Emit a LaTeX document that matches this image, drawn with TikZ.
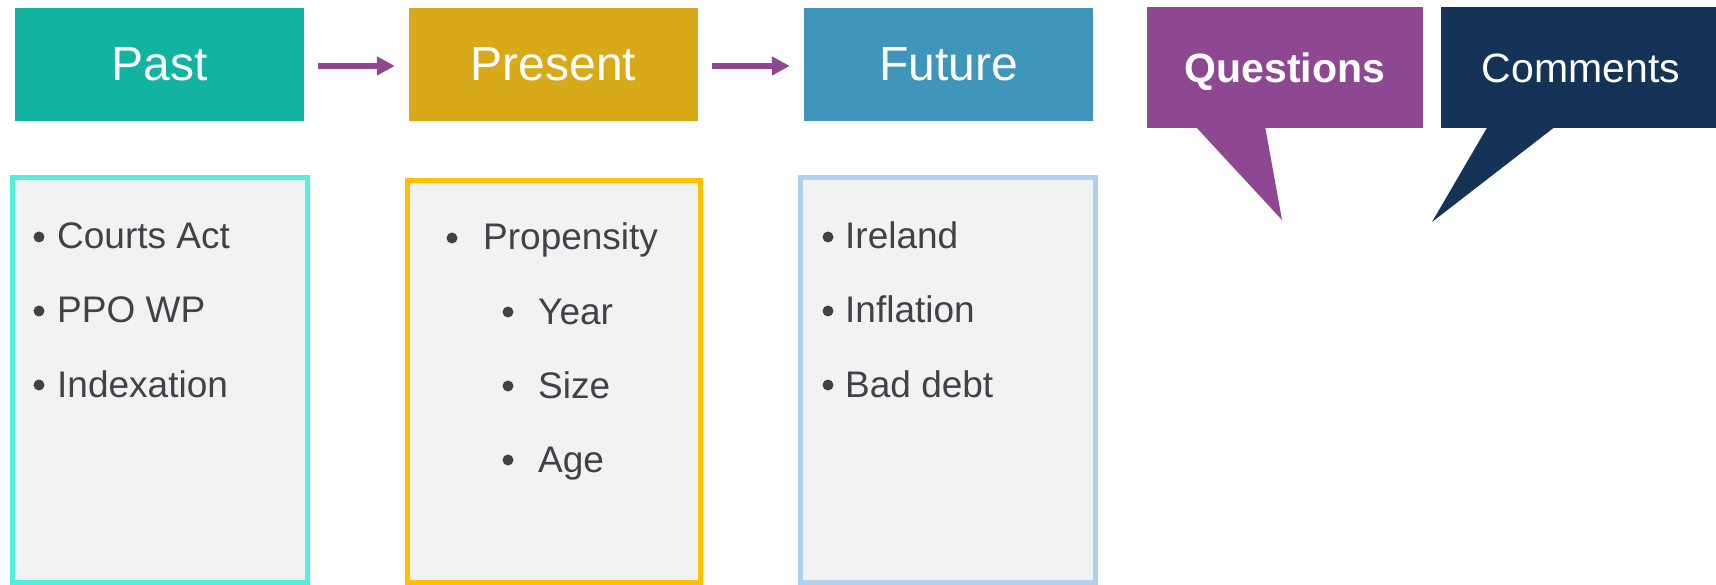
\documentclass[tikz,border=0pt]{standalone}
\usepackage{fontspec}
\setmainfont{Liberation Sans}
\usetikzlibrary{arrows.meta}
\definecolor{pastc}{RGB}{19,179,162}
\definecolor{presc}{RGB}{216,170,25}
\definecolor{futc}{RGB}{64,150,186}
\definecolor{qc}{RGB}{142,72,145}
\definecolor{cc}{RGB}{20,51,86}
\definecolor{listfill}{RGB}{242,242,242}
\definecolor{pastb}{RGB}{80,240,221}
\definecolor{presb}{RGB}{255,192,0}
\definecolor{futb}{RGB}{176,208,238}
\definecolor{txt}{RGB}{63,67,71}
\tikzset{
  hdr/.style={rectangle, minimum width=289pt, minimum height=113pt, inner sep=0pt, text=white, font=\fontsize{48}{48}\selectfont},
  callbox/.style={rectangle, inner sep=0pt, text=white, text height=30pt, text depth=0pt},
  listbox/.style={rectangle, fill=listfill, line width=5pt, inner sep=0pt},
  arr/.style={draw=qc, line width=6pt, -{Triangle[length=18pt,width=18pt]}, shorten <=14pt, shorten >=14pt},
  dot/.style={circle, fill=txt, minimum size=11pt, inner sep=0pt},
  item/.style={anchor=base west, inner sep=0pt, text=txt, font=\fontsize{37}{37}\selectfont}
}
\begin{document}
\begin{tikzpicture}[x=1pt,y=-1pt]
\useasboundingbox (0,0) rectangle (1716,585);
% headers
\node[hdr, fill=pastc] (past) at (159.5,64.5) {Past};
\node[hdr, fill=presc] (present) at (553.5,64.5) {Present};
\node[hdr, fill=futc] (future) at (948.5,64.5) {Future};
\draw[arr] ([yshift=-1.5pt]past.east) -- ([yshift=-1.5pt]present.west);
\draw[arr] ([yshift=-1.5pt]present.east) -- ([yshift=-1.5pt]future.west);
% callouts
\fill[qc] (1195,126) -- (1282,220) -- (1265,126) -- cycle;
\node[callbox, fill=qc, minimum width=276pt, minimum height=121pt, font=\bfseries\fontsize{41}{41}\selectfont] (questions) at (1285,67.5) {Questions};
\fill[cc] (1488,126) -- (1432,222) -- (1556,126) -- cycle;
\node[callbox, fill=cc, minimum width=280pt, minimum height=121pt, font=\fontsize{41}{41}\selectfont] (comments) at (1581,67.5) {Comments};
% list boxes
\node[listbox, draw=pastb, minimum width=295pt, minimum height=405pt] (pastlist) at (160,380) {};
\node[listbox, draw=presb, minimum width=293pt, minimum height=402pt] (preslist) at (554,381.5) {};
\node[listbox, draw=futb, minimum width=295pt, minimum height=405pt] (futlist) at (948,380) {};
% past items
\node[dot] (pb1) at (39,237) {};
\node[item] (pt1) at (57,249) {Courts Act};
\node[dot] (pb2) at (39,311) {};
\node[item] (pt2) at (57,323) {PPO WP};
\node[dot] (pb3) at (39,385) {};
\node[item] (pt3) at (57,397) {Indexation};
% present items
\node[dot] (rb1) at (452,238) {};
\node[item] (rt1) at (483,250) {Propensity};
\node[dot] (rb2) at (508,312) {};
\node[item] (rt2) at (538,324) {Year};
\node[dot] (rb3) at (508,386) {};
\node[item] (rt3) at (538,398) {Size};
\node[dot] (rb4) at (508,460) {};
\node[item] (rt4) at (538,472) {Age};
% future items
\node[dot] (fb1) at (828,237) {};
\node[item] (ft1) at (845,249) {Ireland};
\node[dot] (fb2) at (828,311) {};
\node[item] (ft2) at (845,323) {Inflation};
\node[dot] (fb3) at (828,385) {};
\node[item] (ft3) at (845,397) {Bad debt};
\end{tikzpicture}
\end{document}
